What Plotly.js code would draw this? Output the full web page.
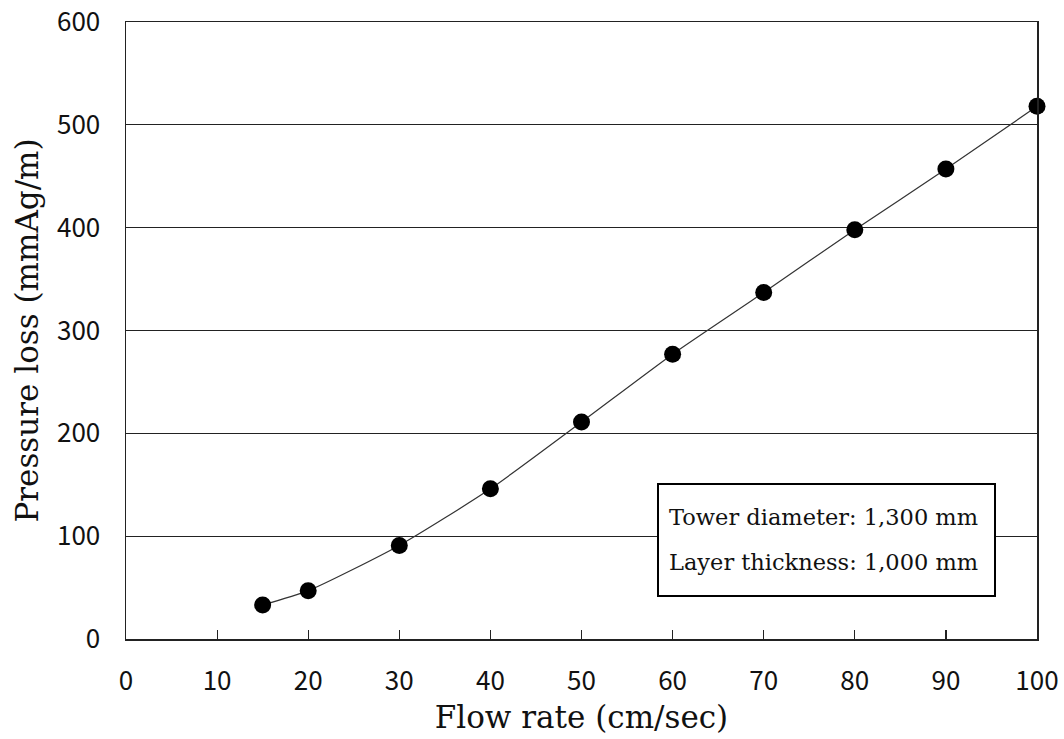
<!DOCTYPE html>
<html><head><meta charset="utf-8">
<script src="https://cdn.plot.ly/plotly-3.0.1.min.js"></script>
<style>html,body{margin:0;padding:0;background:#fff}</style>
</head><body>
<div id="chart" style="width:1064px;height:739px"></div>
<script>
const flowRate = [15, 20, 30, 40, 50, 60, 70, 80, 90, 100];
const pressureLoss = [33, 47, 91, 146, 211, 277, 337, 398, 457, 518];
const xTicks = [0, 10, 20, 30, 40, 50, 60, 70, 80, 90, 100];
const yTicks = [0, 100, 200, 300, 400, 500, 600];
const noteLines = ["Tower diameter: 1,300 mm", "Layer thickness: 1,000 mm"];

const serif = "DejaVu Serif, Liberation Serif, serif";
const sans = "Noto Sans CJK JP, Noto Sans, sans-serif";

const trace = {
  x: flowRate, y: pressureLoss, type: 'scatter', mode: 'lines+markers',
  line: {color: '#333', width: 1.2, shape: 'spline', smoothing: 0.6},
  marker: {color: '#000', size: 17},
  cliponaxis: false, showlegend: false
};

const layout = {
  width: 1064, height: 739,
  margin: {l: 126, r: 27, t: 22, b: 100},
  paper_bgcolor: '#fff', plot_bgcolor: '#fff',
  xaxis: {
    range: [0, 100], tickvals: xTicks, ticktext: xTicks.map(String),
    ticks: 'inside', ticklen: 9, tickwidth: 1.2, tickcolor: '#222',
    showgrid: false, zeroline: false, showline: true, linecolor: '#222', linewidth: 1.5, mirror: true,
    tickfont: {family: sans, size: 26, color: '#111'}, ticklabelstandoff: 18,
    title: {text: 'Flow rate (cm/sec)', font: {family: serif, size: 31, color: '#111'}, standoff: 10}
  },
  yaxis: {
    range: [0, 600], tickvals: yTicks, ticktext: yTicks.map(String),
    ticks: '', showgrid: true, gridcolor: '#222', gridwidth: 1.2,
    zeroline: false, showline: true, linecolor: '#222', linewidth: 1.5, mirror: true,
    tickfont: {family: sans, size: 26, color: '#111'}, ticklabelstandoff: 19,
    title: {text: 'Pressure loss (mmAg/m)', font: {family: serif, size: 31, color: '#111'}, standoff: 9}
  },
  shapes: [{
    type: 'rect', xref: 'paper', yref: 'paper',
    x0: (658-126)/911, x1: (995-126)/911, y0: (639-596)/617, y1: (639-484)/617,
    line: {color: '#000', width: 2}, fillcolor: '#fff', layer: 'above'
  }],
  annotations: noteLines.map((t, i) => ({
    text: t, xref: 'paper', yref: 'paper', x: (667-126)/911, xanchor: 'left',
    y: (639-(517+i*45))/617, yanchor: 'middle', showarrow: false,
    font: {family: serif, size: 22.5, color: '#111'}
  }))
};

Plotly.newPlot('chart', [trace], layout, {displayModeBar: false, staticPlot: true});
</script>
</body></html>
